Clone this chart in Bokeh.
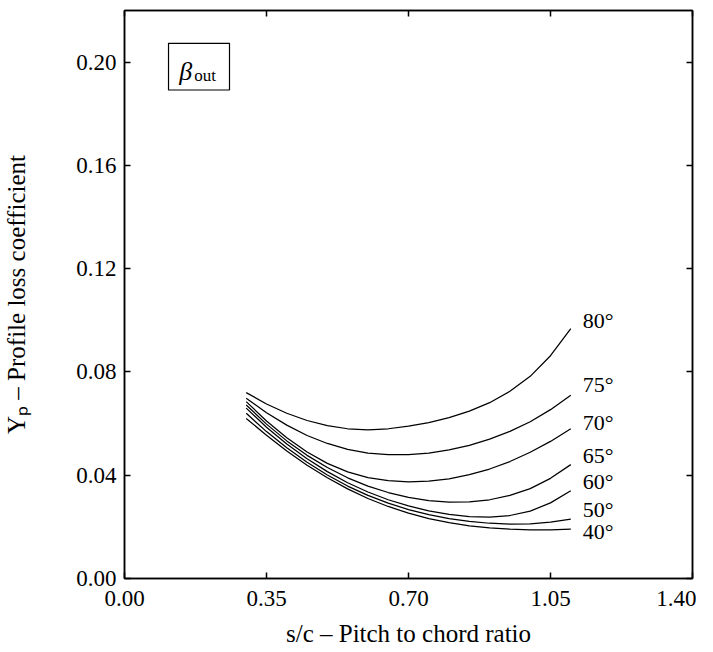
from bokeh.plotting import figure
from bokeh.models import (FixedTicker, NumeralTickFormatter, LinearAxis, Label,
                          BoxAnnotation, Range1d, ColumnDataSource)
from bokeh.embed import file_html
from bokeh.resources import INLINE
from bokeh.core.properties import value

# ---------------- data ----------------
s_c = [0.30, 0.35, 0.40, 0.45, 0.50, 0.55, 0.60, 0.65, 0.70,
       0.75, 0.80, 0.85, 0.90, 0.95, 1.00, 1.05, 1.10]

yp_80 = [0.0720, 0.0676, 0.0640, 0.0612, 0.0592, 0.0580, 0.0576, 0.0580, 0.0590,
         0.0604, 0.0623, 0.0648, 0.0681, 0.0725, 0.0783, 0.0863, 0.0968]
yp_75 = [0.0698, 0.0642, 0.0594, 0.0554, 0.0523, 0.0500, 0.0486, 0.0480, 0.0480,
         0.0486, 0.0498, 0.0516, 0.0540, 0.0570, 0.0607, 0.0654, 0.0710]
yp_70 = [0.0685, 0.0610, 0.0545, 0.0490, 0.0446, 0.0413, 0.0391, 0.0379, 0.0374,
         0.0377, 0.0386, 0.0402, 0.0424, 0.0453, 0.0489, 0.0531, 0.0580]
yp_65 = [0.0672, 0.0598, 0.0533, 0.0477, 0.0430, 0.0390, 0.0358, 0.0333, 0.0314,
         0.0302, 0.0296, 0.0297, 0.0305, 0.0322, 0.0348, 0.0388, 0.0441]
yp_60 = [0.0660, 0.0586, 0.0521, 0.0464, 0.0414, 0.0371, 0.0335, 0.0305, 0.0281,
         0.0262, 0.0248, 0.0240, 0.0238, 0.0244, 0.0261, 0.0293, 0.0340]
yp_50 = [0.0640, 0.0569, 0.0506, 0.0450, 0.0401, 0.0358, 0.0322, 0.0292, 0.0267,
         0.0247, 0.0232, 0.0221, 0.0214, 0.0211, 0.0212, 0.0218, 0.0230]
yp_40 = [0.0620, 0.0555, 0.0494, 0.0439, 0.0390, 0.0347, 0.0310, 0.0279, 0.0253,
         0.0232, 0.0216, 0.0204, 0.0196, 0.0191, 0.0188, 0.0188, 0.0191]

series = [yp_80, yp_75, yp_70, yp_65, yp_60, yp_50, yp_40]
angle_labels = ["80°", "75°", "70°", "65°", "60°", "50°", "40°"]

x_ticks = [0.00, 0.35, 0.70, 1.05, 1.40]
y_ticks = [0.00, 0.04, 0.08, 0.12, 0.16, 0.20]

# ---------------- styling ----------------
FONT = "Liberation Serif"
TICK_FS = "23px"
LABEL_FS = "25px"
label_dy = [-8, -11, -6, -9, -9, -10, 2]   # screen-pixel nudges of the end labels

p = figure(frame_width=568, frame_height=568,
           x_range=Range1d(0, 1.40), y_range=Range1d(0, 0.22),
           output_backend="svg", toolbar_location=None,
           min_border_left=10, min_border_right=4, min_border_top=10, min_border_bottom=4)
p.background_fill_color = "white"
p.border_fill_color = "white"
p.outline_line_color = "black"
p.outline_line_width = 1.5
p.xgrid.visible = False
p.ygrid.visible = False

def style_axis(ax, ticks, show_labels):
    ax.ticker = FixedTicker(ticks=ticks)
    ax.formatter = NumeralTickFormatter(format="0.00")
    ax.major_tick_in = 6
    ax.major_tick_out = 0
    ax.minor_tick_in = 0
    ax.minor_tick_out = 0
    ax.major_tick_line_width = 1.5
    ax.axis_line_width = 1.5
    ax.axis_line_color = "black"
    ax.major_label_text_font = FONT
    ax.major_label_text_font_size = TICK_FS
    ax.major_label_text_color = "black"
    if not show_labels:
        ax.major_label_overrides = {t: "" for t in ticks}
        ax.major_label_standoff = 0
    ax.axis_label_text_font = FONT
    ax.axis_label_text_font_size = LABEL_FS
    ax.axis_label_text_font_style = "normal"
    ax.axis_label_text_color = "black"

style_axis(p.xaxis[0], x_ticks, True)
style_axis(p.yaxis[0], y_ticks, True)
p.xaxis[0].major_label_standoff = 12
p.yaxis[0].major_label_standoff = 8
p.xaxis[0].axis_label = "s/c – Pitch to chord ratio"
p.yaxis[0].axis_label = "Yₚ – Profile loss coefficient"
p.xaxis[0].axis_label_standoff = 11
p.yaxis[0].axis_label_standoff = 43

top = LinearAxis()
style_axis(top, x_ticks, False)
p.add_layout(top, "above")
right = LinearAxis()
style_axis(right, y_ticks, False)
p.add_layout(right, "right")

# ---------------- curves ----------------
for ys, lab, dy in zip(series, angle_labels, label_dy):
    src = ColumnDataSource(dict(x=s_c, y=ys))
    p.line("x", "y", source=src, line_color="black", line_width=1.25)
    tsrc = ColumnDataSource(dict(x=[s_c[-1]], y=[ys[-1]], t=[lab]))
    p.text("x", "y", text="t", source=tsrc, x_offset=12, y_offset=dy,
           text_font=value(FONT), text_font_size="22px",
           text_baseline="middle", text_align="left", text_color="black")

# ---------------- beta_out box ----------------
box = BoxAnnotation(left=0.1085, right=0.2588, bottom=0.1892, top=0.2073,
                    fill_color="white", fill_alpha=1.0,
                    line_color="black", line_alpha=1.0, line_width=1.2)
p.add_layout(box)
p.add_layout(Label(x=0.135, y=0.1965, text="β", text_font=FONT,
                   text_font_style="italic", text_font_size="26px",
                   text_baseline="alphabetic", text_color="black"))
p.add_layout(Label(x=0.172, y=0.1950, text="out", text_font=FONT,
                   text_font_size="17px", text_baseline="alphabetic",
                   text_color="black"))

open("out.html", "w").write(file_html(p, INLINE))
